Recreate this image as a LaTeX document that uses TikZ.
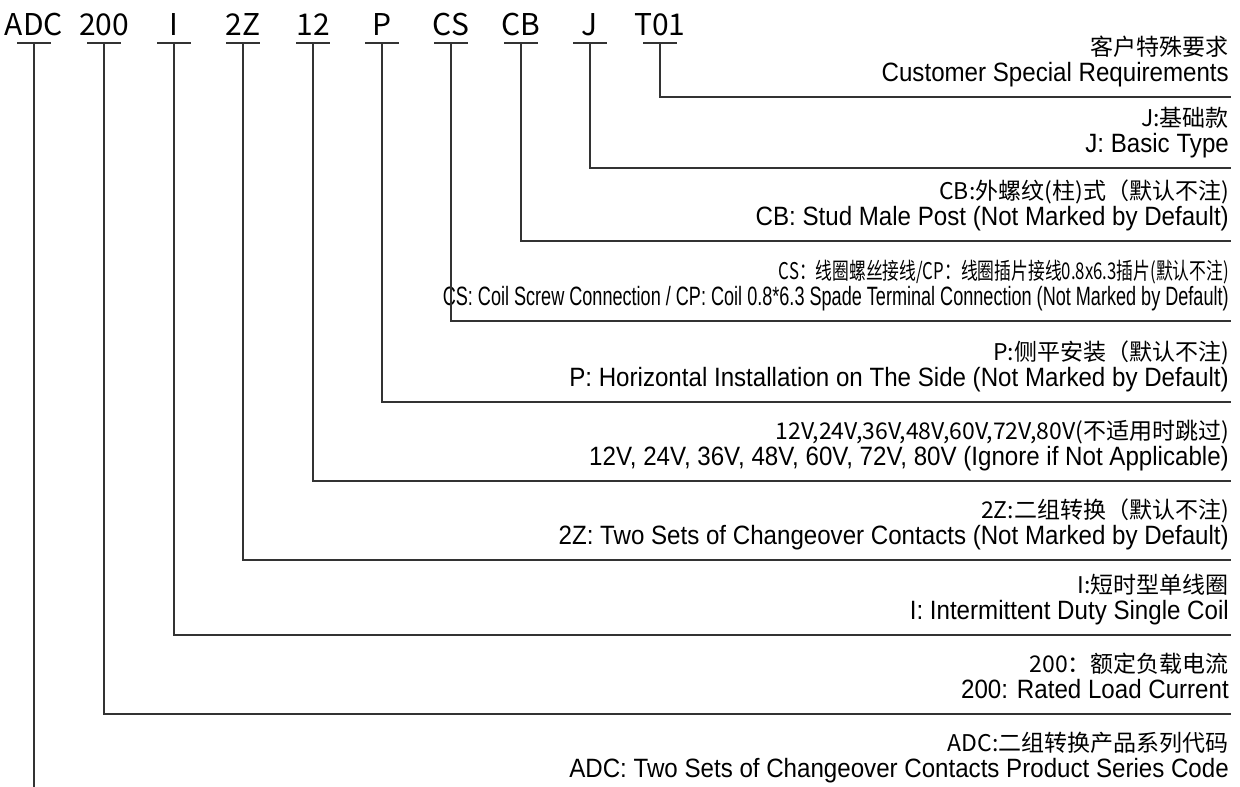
\documentclass[tikz,border=0pt]{standalone}
\usepackage{fontspec}
\usepackage{graphicx}
\setmainfont{Liberation Sans}
\newfontfamily\cnfont{Noto Sans CJK SC}
\newfontfamily\enfont{Liberation Sans}[FakeStretch=0.91]
\newfontfamily\codefont{Noto Sans CJK SC}
\tikzset{
    code/.style={font=\codefont\fontsize{30}{30}\selectfont,anchor=base,inner sep=0pt},
    cnline/.style={font=\cnfont\fontsize{23}{23}\selectfont,anchor=base east,inner sep=0pt},
    enline/.style={font=\enfont\fontsize{26.5}{26.5}\selectfont,anchor=base east,inner sep=0pt},
    leader/.style={draw=black!80,line width=1.2pt}
}
% one entry: name, x of tick, y of its line, chinese text, english text
\newcommand{\codeentry}[5]{
    \coordinate (#1-t) at (#2,43);
    \coordinate (#1-e) at (1231,#3);
    \node[cnline] (#1-cn) at (1229,#3-42) {#4};
    \node[enline] (#1-en) at (1229,#3-16) {#5};
}
\begin{document}
\begin{tikzpicture}[x=1pt,y=-1pt]
    \useasboundingbox (0,0) rectangle (1240,787);
    % codes along the top
    \foreach \nm/\xx/\txt in {adc/34/ADC,cur/104/200,coil/174/I,cont/243/2Z,volt/313/12,
                              inst/382/P,term/451/CS,post/521/CB,base/590/J,cust/660/T01}{
        \node[code] (\nm) at (\xx,35) {\txt};
        \draw[leader] ([xshift=-17pt]\xx,43) -- ([xshift=17pt]\xx,43);
    }
    \codeentry{cust}{660}{97}{客户特殊要求}{Customer Special Requirements}
    \codeentry{base}{590}{168}{J:基础款}{J: Basic Type}
    \codeentry{post}{521}{241}{CB:外螺纹(柱)式（默认不注)}{CB: Stud Male Post (Not Marked by Default)}
    \codeentry{term}{451}{321}{\resizebox{450pt}{\height}{CS：线圈螺丝接线/CP：线圈插片接线0.8x6.3插片(默认不注)}}%
        {\resizebox{786pt}{\height}{CS: Coil Screw Connection / CP: Coil 0.8*6.3 Spade Terminal Connection (Not Marked by Default)}}
    \codeentry{inst}{382}{402}{P:侧平安装（默认不注)}{P: Horizontal Installation on The Side (Not Marked by Default)}
    \codeentry{volt}{313}{481}{12V,24V,36V,48V,60V,72V,80V(不适用时跳过)}{12V, 24V, 36V, 48V, 60V, 72V, 80V (Ignore if Not Applicable)}
    \codeentry{cont}{243}{560}{2Z:二组转换（默认不注)}{2Z: Two Sets of Changeover Contacts (Not Marked by Default)}
    \codeentry{coil}{174}{635}{I:短时型单线圈}{I: Intermittent Duty Single Coil}
    \codeentry{cur}{104}{714}{200：额定负载电流}{200: Rated Load Current}
    \codeentry{adc}{34}{793}{ADC:二组转换产品系列代码}{ADC: Two Sets of Changeover Contacts Product Series Code}
    % leaders from the codes to their lines
    \foreach \nm in {cust,base,post,term,inst,volt,cont,coil,cur}
        \draw[leader] (\nm-t) |- (\nm-e);
    \coordinate (adc-b) at (34,787);
    \draw[leader] (adc-t) -- (adc-b);
\end{tikzpicture}
\end{document}
